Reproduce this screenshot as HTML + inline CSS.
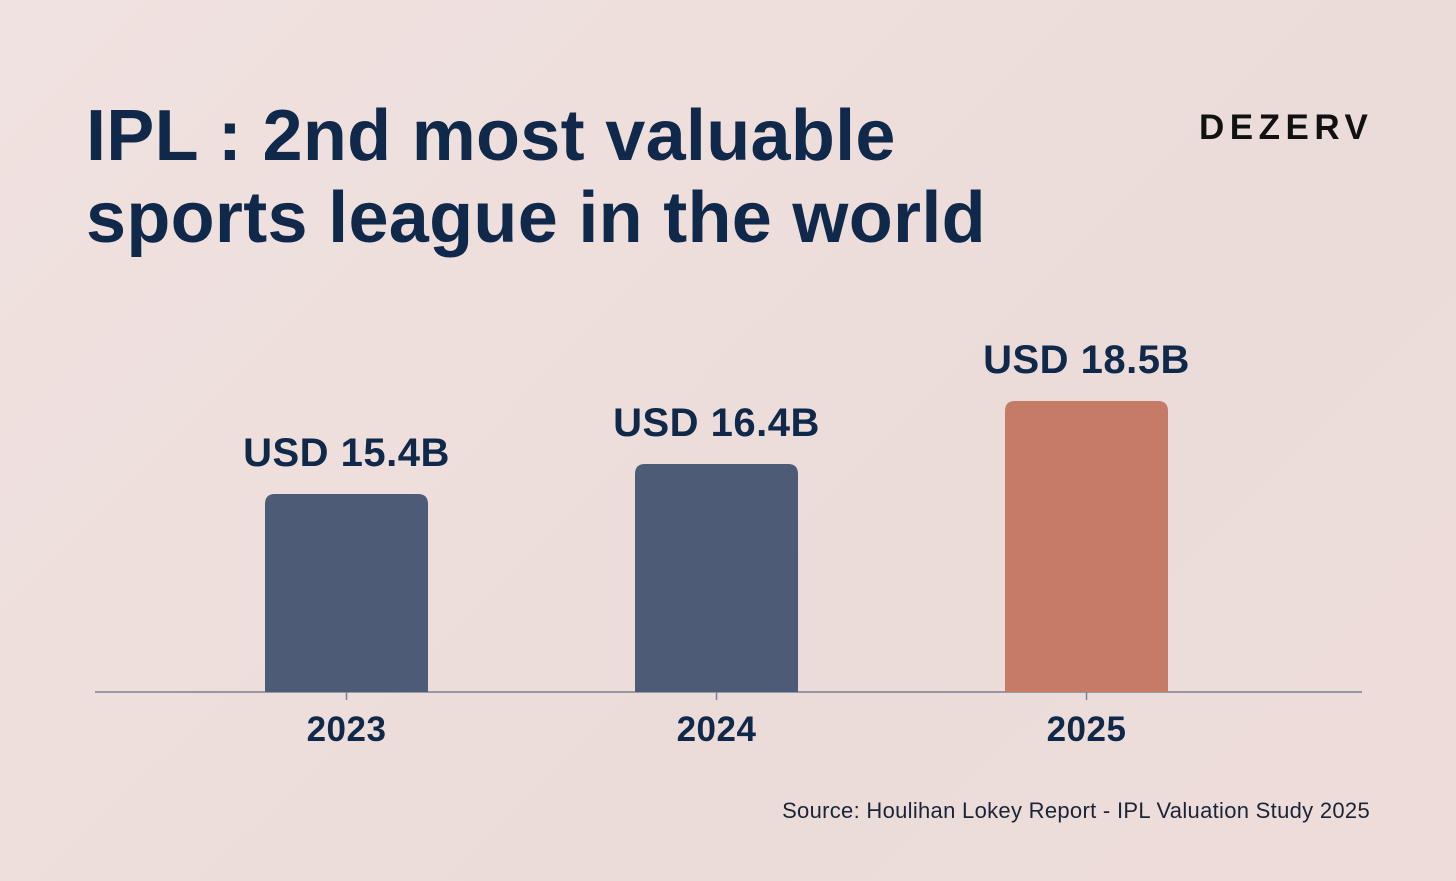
<!DOCTYPE html>
<html><head><meta charset="utf-8"><style>
html,body{margin:0;padding:0}
body{width:1456px;height:881px;background:linear-gradient(135deg,#f0e2e0 0%,#ecdcd9 60%,#eddcda 100%);font-family:"Liberation Sans",sans-serif;position:relative;overflow:hidden;color:#0f2545}
.title{position:absolute;left:86px;top:95px;font-size:72px;font-weight:bold;line-height:82px;letter-spacing:0.3px;color:#10284a}
.logo{position:absolute;left:1199px;top:108px;font-size:35px;font-weight:bold;letter-spacing:5.5px;color:#111}
.src{position:absolute;right:86px;top:798px;font-size:22px;letter-spacing:0.3px;color:#1a2438}
svg{position:absolute;left:0;top:0}
</style></head><body>
<div class="title">IPL : 2nd most valuable<br>sports league in the world</div>
<div class="logo">DEZERV</div>
<div class="src">Source: Houlihan Lokey Report - IPL Valuation Study 2025</div>
<svg id="chart" width="1456" height="881"></svg>
<script>
const categories=["2023","2024","2025"];
const values=[15.4,16.4,18.5];
const valueLabels=["USD 15.4B","USD 16.4B","USD 18.5B"];
const colors=["#4e5b77","#4e5b77","#c67b66"];
const svg=document.getElementById('chart');
const NS="http://www.w3.org/2000/svg";
const baseY=692, yMin=8.8, pxPerUnit=30;
function y(v){return baseY-(v-yMin)*pxPerUnit;}
function xc(i){return 346.5+i*370;}
const barW=163;
const axis=document.createElementNS(NS,'line');
axis.setAttribute('x1',95);axis.setAttribute('x2',1362);axis.setAttribute('y1',baseY);axis.setAttribute('y2',baseY);
axis.setAttribute('stroke','#7a8196');axis.setAttribute('stroke-width','1.5');


svg.appendChild(axis);
categories.forEach((c,i)=>{
  const top=y(values[i]);
  const r=document.createElementNS(NS,'path');
  const x0=xc(i)-barW/2,x1=xc(i)+barW/2,rad=10;
  r.setAttribute('d',`M${x0},${baseY} L${x0},${top+rad} Q${x0},${top} ${x0+rad},${top} L${x1-rad},${top} Q${x1},${top} ${x1},${top+rad} L${x1},${baseY} Z`);
  r.setAttribute('fill',colors[i]);
  
  
  svg.appendChild(r);
  const t=document.createElementNS(NS,'line');
  t.setAttribute('x1',xc(i));t.setAttribute('x2',xc(i));t.setAttribute('y1',baseY);t.setAttribute('y2',baseY+8);
  t.setAttribute('stroke','#7a8196');t.setAttribute('stroke-width','1.5');
  
  
  svg.appendChild(t);
  const lab=document.createElementNS(NS,'text');
  lab.setAttribute('x',xc(i));lab.setAttribute('y',top-28);
  lab.setAttribute('text-anchor','middle');lab.setAttribute('font-size','40');lab.setAttribute('font-weight','bold');
  lab.setAttribute('fill','#10284a');lab.setAttribute('letter-spacing','0.5');
  lab.textContent=valueLabels[i];
  
  
  svg.appendChild(lab);
  const xl=document.createElementNS(NS,'text');
  xl.setAttribute('x',xc(i));xl.setAttribute('y',741);
  xl.setAttribute('text-anchor','middle');xl.setAttribute('font-size','35');xl.setAttribute('font-weight','bold');
  xl.setAttribute('fill','#10284a');xl.setAttribute('letter-spacing','0.5');
  xl.textContent=c;
  
  
  svg.appendChild(xl);
});
</script>
</body></html>
